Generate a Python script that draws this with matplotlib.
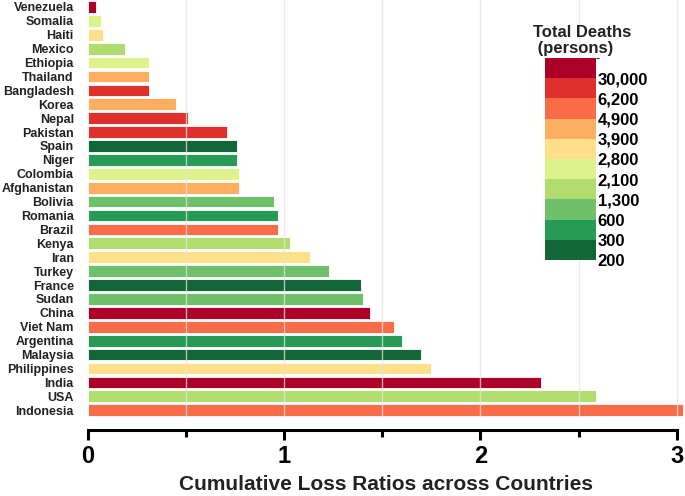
import matplotlib
matplotlib.use("Agg")
import matplotlib.pyplot as plt
from matplotlib.colors import ListedColormap, BoundaryNorm
import matplotlib.cm as cm

plt.rcParams["font.family"] = ["Liberation Sans Narrow", "Liberation Sans", "DejaVu Sans"]

# countries listed top to bottom as in the chart
countries = ["Venezuela", "Somalia", "Haiti", "Mexico", "Ethiopia", "Thailand",
             "Bangladesh", "Korea", "Nepal", "Pakistan", "Spain", "Niger",
             "Colombia", "Afghanistan", "Bolivia", "Romania", "Brazil", "Kenya",
             "Iran", "Turkey", "France", "Sudan", "China", "Viet Nam",
             "Argentina", "Malaysia", "Philippines", "India", "USA", "Indonesia"]
loss_ratio = [0.04, 0.07, 0.08, 0.19, 0.31, 0.31, 0.31, 0.45, 0.51, 0.71,
              0.76, 0.76, 0.77, 0.77, 0.95, 0.97, 0.97, 1.03, 1.13, 1.23,
              1.39, 1.40, 1.44, 1.56, 1.60, 1.70, 1.75, 2.31, 2.59, 3.03]
# death class index: 0 = lowest (200) ... 9 = highest (30,000)
death_class = [9, 4, 5, 3, 4, 6, 8, 6, 8, 8,
               0, 1, 4, 6, 2, 1, 7, 3, 5, 2,
               0, 2, 9, 7, 1, 0, 5, 9, 3, 7]

class_colors = ["#136638", "#259b55", "#6fc06a", "#b0dd6d", "#ddf28b",
                "#fee08b", "#fdae61", "#f96c48", "#e0302c", "#ad0028"]
class_labels = ["200", "300", "600", "1,300", "2,100", "2,800", "3,900",
                "4,900", "6,200", "30,000"]

fig = plt.figure(figsize=(6.85, 4.96), dpi=100)
ax = fig.add_axes([0.128, 0.159, 0.870, 0.841])

ypos = list(range(len(countries)))
bar_colors = [class_colors[c] for c in death_class]
ax.barh(ypos, loss_ratio, height=0.84, color=bar_colors,
        edgecolor="white", linewidth=0.6, zorder=2)

ax.set_ylim(len(countries) - 0.5, -0.5)
ax.set_xlim(0, 3.035)
ax.set_yticks(ypos)
ax.set_yticklabels(countries, fontsize=9, fontweight="bold", color="#222222")
ax.tick_params(axis="y", length=0, pad=10)

# vertical grid drawn over the bars
for gx in [0.5, 1.0, 1.5, 2.0, 2.5, 3.0]:
    ax.axvline(gx, color="#e4e4e4", alpha=0.75, lw=1.0, zorder=3)

for side in ["top", "right", "left"]:
    ax.spines[side].set_visible(False)
ax.spines["bottom"].set_position(("outward", 9))
ax.spines["bottom"].set_bounds(0, 3)
ax.spines["bottom"].set_linewidth(2.2)
ax.set_xticks([0, 1, 2, 3])
ax.set_xticks([0.5, 1.5, 2.5], minor=True)
ax.tick_params(axis="x", which="major", length=7, width=2.2, direction="out",
               labelsize=17, pad=4)
ax.tick_params(axis="x", which="minor", length=5, width=2.2, direction="out")
for lbl in ax.get_xticklabels():
    lbl.set_fontweight("bold")
ax.set_xlabel("Cumulative Loss Ratios across Countries", fontsize=15,
              fontweight="bold", labelpad=5, color="#222222")

# discrete legend for total deaths
cax = fig.add_axes([0.796, 0.476, 0.0745, 0.407])
cmap = ListedColormap(class_colors)
norm = BoundaryNorm(list(range(len(class_colors) + 1)), cmap.N)
cb = fig.colorbar(cm.ScalarMappable(norm=norm, cmap=cmap), cax=cax)
cb.outline.set_visible(False)
cb.set_ticks(list(range(len(class_labels))))
cb.set_ticklabels(class_labels)
cax.tick_params(length=0, pad=1, labelsize=12)
for lbl in cax.get_yticklabels():
    lbl.set_fontweight("bold")
fig.text(0.778, 0.95, "Total Deaths\n (persons)", ha="left", va="top",
         fontsize=12, fontweight="bold", color="#222222", linespacing=1.1)

fig.savefig("out.png", dpi=100)
